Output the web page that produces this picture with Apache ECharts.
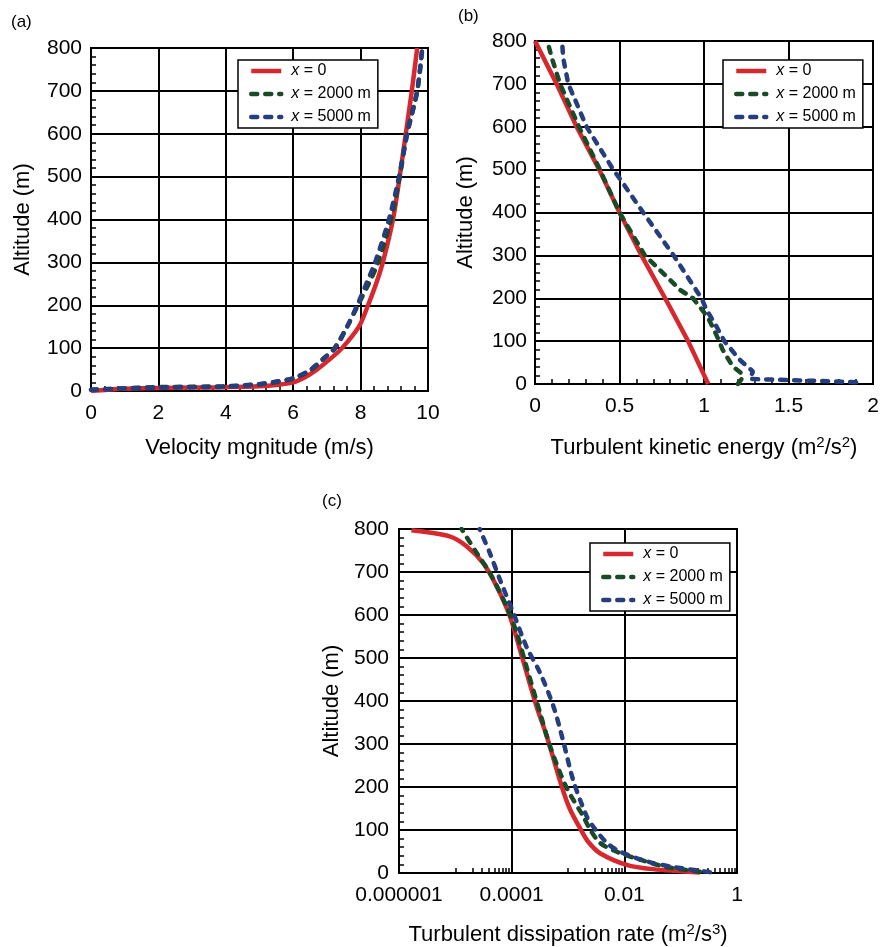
<!DOCTYPE html>
<html><head><meta charset="utf-8">
<script src="https://cdn.jsdelivr.net/npm/echarts@6/dist/echarts.min.js"></script>
<style>html,body{margin:0;padding:0;background:#fff}#c{width:880px;height:947px}</style>
</head><body><div id="c"></div>
<script>
// ---------- data ----------
const seriesNames = ['x = 0', 'x = 2000 m', 'x = 5000 m'];
const seriesColors = ['#d7282f', '#1b4a27', '#263e7e'];

// (a) velocity magnitude (m/s) vs altitude (m)
const velX0 = [[0,0],[0.5,3],[1,5],[2,7],[3,8],[4,9],[5,11],[5.5,14],[6,20],[6.35,32],[6.7,50],[7.1,75],[7.45,100],[7.95,150],[8.22,200],[8.46,250],[8.66,300],[8.96,400],[9.16,500],[9.34,600],[9.52,700],[9.68,800]];
const velX2000 = [[0,3],[1,6],[2,9],[3,10],[4,11],[5,16],[5.5,21],[6,29],[6.5,48],[6.9,75],[7.22,100],[7.6,150],[7.92,200],[8.24,250],[8.52,300],[8.9,400],[9.16,500],[9.38,600],[9.68,700],[9.83,800]];
const velX5000 = [[0,3],[1,6],[2,8],[3,9],[4,10],[5,16],[5.5,22],[6,30],[6.5,49],[6.9,76],[7.25,100],[7.6,150],[7.9,200],[8.17,250],[8.43,300],[8.84,400],[9.14,500],[9.38,600],[9.68,700],[9.83,800]];

// (b) turbulent kinetic energy (m2/s2) vs altitude (m)
const tkeX0 = [[1.025,0],[0.906,100],[0.77,200],[0.63,300],[0.50,400],[0.38,500],[0.246,600],[0.128,700],[0,800]];
const tkeX2000 = [[1.2,0],[1.22,10],[1.23,22],[1.17,41],[1.11,80],[1.09,100],[1.05,134],[1.02,157],[0.935,200],[0.86,219],[0.78,250],[0.65,300],[0.50,400],[0.384,500],[0.26,600],[0.148,700],[0.1,760],[0.073,800]];
const tkeX5000 = [[1.9,4],[1.7,7],[1.5,9],[1.35,11],[1.27,12],[1.29,29],[1.21,57],[1.12,100],[1.074,134],[1.015,173],[0.985,200],[0.82,300],[0.64,400],[0.50,480],[0.463,500],[0.305,600],[0.197,700],[0.167,760],[0.16,800]];

// (c) turbulent dissipation rate (m2/s3) vs altitude (m)
const epsX0 = [[0.22,1],[0.032,9],[0.011,19],[0.0037,46],[0.0023,72],[0.0017,100],[0.00107,150],[0.00078,200],[0.00042,318],[0.000275,388],[0.000158,496],[0.000093,597],[0.000054,667],[0.000031,721],[0.0000158,760],[0.0000079,783],[0.00000166,797]];
const epsX2000 = [[0.22,3],[0.056,14],[0.019,31],[0.0072,50],[0.0037,70],[0.0025,100],[0.00186,132],[0.00093,200],[0.00048,295],[0.00032,372],[0.000182,481],[0.000123,558],[0.000081,620],[0.000041,698],[0.000024,744],[0.0000129,800]];
const epsX5000 = [[0.33,2],[0.074,14],[0.025,27],[0.0083,50],[0.0049,70],[0.0028,108],[0.00214,132],[0.00123,217],[0.00081,310],[0.00055,388],[0.00032,465],[0.000182,527],[0.000107,605],[0.000062,682],[0.000041,744],[0.000027,800]];

// tick labels
const altTicks = [0,100,200,300,400,500,600,700,800];
const velTicks = [0,2,4,6,8,10];
const tkeTicks = [0,0.5,1,1.5,2];
const epsTickLabels = {'-6':'0.000001','-4':'0.0001','-2':'0.01','0':'1'};
const epsMinorTicks = [1e-5,2e-5,3e-5,4e-5,5e-5,6e-5,7e-5,8e-5,9e-5,1e-3,2e-3,3e-3,4e-3,5e-3,6e-3,7e-3,8e-3,9e-3,0.1,0.2,0.3,0.4,0.5,0.6,0.7,0.8,0.9];

const panelLabels = ['(a)', '(b)', '(c)'];
const xTitles = ['Velocity mgnitude (m/s)', 'Turbulent kinetic energy (m{sup|2}/s{sup|2})', 'Turbulent dissipation rate (m{sup|2}/s{sup|3})'];
const yTitle = 'Altitude (m)';

// ---------- chart ----------
const FONT = 'Liberation Sans, Arial, Helvetica, sans-serif';
const TICK_FS = 21;
const TITLE_FS = 22;
const chart = echarts.init(document.getElementById('c'), null, {renderer: 'canvas'});

const nameRich = {
  sup: {fontSize: 15, fontFamily: FONT, color: '#000', padding: [0, 0, 10, 0]}
};
function axisCommon() {
  return {
    axisLine: {show: true, onZero: false, lineStyle: {color: '#000', width: 2}},
    axisTick: {show: true, inside: true, length: 5, lineStyle: {color: '#000', width: 1.5}},
    splitLine: {show: true, lineStyle: {color: '#000', width: 2}},
    axisLabel: {color: '#000', fontSize: TICK_FS, fontFamily: FONT},
    nameTextStyle: {color: '#000', fontSize: TITLE_FS, fontFamily: FONT, rich: nameRich},
    nameLocation: 'middle'
  };
}
function yAxis(gridIndex, gap, margin) {
  return Object.assign(axisCommon(), {
    type: 'value', gridIndex, min: altTicks[0], max: altTicks[altTicks.length - 1], interval: 100,
    name: yTitle, nameGap: gap,
    minorTick: {show: true, splitNumber: 5, length: 5, lineStyle: {color: '#000', width: 1.5}},
    axisLabel: {color: '#000', fontSize: TICK_FS, fontFamily: FONT, margin}
  });
}
const lineStyles = [
  {width: 4.5, type: 'solid'},
  {width: 4.5, type: [6, 8], cap: 'round'},
  {width: 4.5, type: [6, 8], cap: 'round'}
];
function makeSeries(data, idx, xi, yi, smooth) {
  return {
    type: 'line', name: seriesNames[idx], data,
    xAxisIndex: xi, yAxisIndex: yi,
    symbol: 'none', showSymbol: false,
    smooth: smooth ? 0.3 : false,
    color: seriesColors[idx],
    lineStyle: Object.assign({color: seriesColors[idx]}, lineStyles[idx]),
    z: 3 + idx,
    animation: false
  };
}
function legend(left, top) {
  return {
    show: true, orient: 'vertical', left, top,
    data: seriesNames,
    itemWidth: 30, itemHeight: 14, itemGap: 5,
    padding: [2, 7, 2, 11],
    borderColor: '#000', borderWidth: 1.5, backgroundColor: '#fff',
    selectedMode: false,
    itemStyle: {opacity: 0},
    lineStyle: {width: 4.5},
    formatter: function (name) { return '{i|x}{n|' + name.slice(1) + '}'; },
    textStyle: {
      color: '#000', fontSize: 16, fontFamily: FONT, lineHeight: 18,
      rich: {
        i: {fontStyle: 'italic', fontSize: 16, fontFamily: FONT, color: '#000', padding: [0, 0, 0, 5]},
        n: {fontSize: 16, fontFamily: FONT, color: '#000'}
      }
    },
    z: 10
  };
}
const panelTitleStyle = {fontSize: 17, fontWeight: 'normal', color: '#000', fontFamily: FONT};

const option = {
  backgroundColor: '#fff',
  animation: false,
  title: [
    {text: panelLabels[0], left: 11, top: 14, padding: 0, textStyle: panelTitleStyle},
    {text: panelLabels[1], left: 458, top: 8, padding: 0, textStyle: panelTitleStyle},
    {text: panelLabels[2], left: 322, top: 493, padding: 0, textStyle: panelTitleStyle}
  ],
  grid: [
    {left: 91, top: 48, width: 337, height: 343, show: true, borderColor: '#000', borderWidth: 2, backgroundColor: 'transparent', containLabel: false, outerBoundsMode: 'none'},
    {left: 535, top: 41, width: 338, height: 343, show: true, borderColor: '#000', borderWidth: 2, backgroundColor: 'transparent', containLabel: false, outerBoundsMode: 'none'},
    {left: 399, top: 529, width: 338, height: 344, show: true, borderColor: '#000', borderWidth: 2, backgroundColor: 'transparent', containLabel: false, outerBoundsMode: 'none'}
  ],
  legend: [legend(238, 60), legend(723, 60), legend(590, 543)],
  xAxis: [
    Object.assign(axisCommon(), {
      type: 'value', gridIndex: 0, position: 'bottom', min: velTicks[0], max: velTicks[velTicks.length - 1], interval: 2,
      name: xTitles[0], nameGap: 46,
      minorTick: {show: true, splitNumber: 5, length: 5, lineStyle: {color: '#000', width: 1.5}},
      axisLabel: {color: '#000', fontSize: TICK_FS, fontFamily: FONT, margin: 12}
    }),
    Object.assign(axisCommon(), {
      type: 'value', gridIndex: 1, position: 'bottom', min: tkeTicks[0], max: tkeTicks[tkeTicks.length - 1], interval: 0.5,
      name: xTitles[1], nameGap: 51,
      minorTick: {show: true, splitNumber: 5, length: 5, lineStyle: {color: '#000', width: 1.5}},
      axisLabel: {color: '#000', fontSize: TICK_FS, fontFamily: FONT, margin: 12}
    }),
    Object.assign(axisCommon(), {
      type: 'log', logBase: 10, gridIndex: 2, position: 'bottom', min: 1e-6, max: 1, interval: 2,
      name: xTitles[2], nameGap: 49,
      axisLabel: {color: '#000', fontSize: TICK_FS, fontFamily: FONT, margin: 12,
        formatter: function (v) { return epsTickLabels[String(Math.round(Math.log10(v)))] || ''; }}
    }),
    {
      type: 'log', logBase: 10, gridIndex: 2, position: 'bottom', min: 1e-6, max: 1,
      axisLine: {show: false},
      axisLabel: {show: false},
      splitLine: {show: false},
      axisTick: {show: true, inside: true, length: 5, customValues: epsMinorTicks, lineStyle: {color: '#000', width: 1.5}}
    }
  ],
  yAxis: [yAxis(0, 57, 9), yAxis(1, 58, 8), yAxis(2, 56, 10)],
  series: [
    makeSeries(velX0, 0, 0, 0, true),
    makeSeries(velX2000, 1, 0, 0, true),
    makeSeries(velX5000, 2, 0, 0, true),
    makeSeries(tkeX0, 0, 1, 1, false),
    makeSeries(tkeX2000, 1, 1, 1, false),
    makeSeries(tkeX5000, 2, 1, 1, false),
    makeSeries(epsX0, 0, 2, 2, true),
    makeSeries(epsX2000, 1, 2, 2, true),
    makeSeries(epsX5000, 2, 2, 2, true)
  ]
};
chart.setOption(option);
</script>
</body></html>
